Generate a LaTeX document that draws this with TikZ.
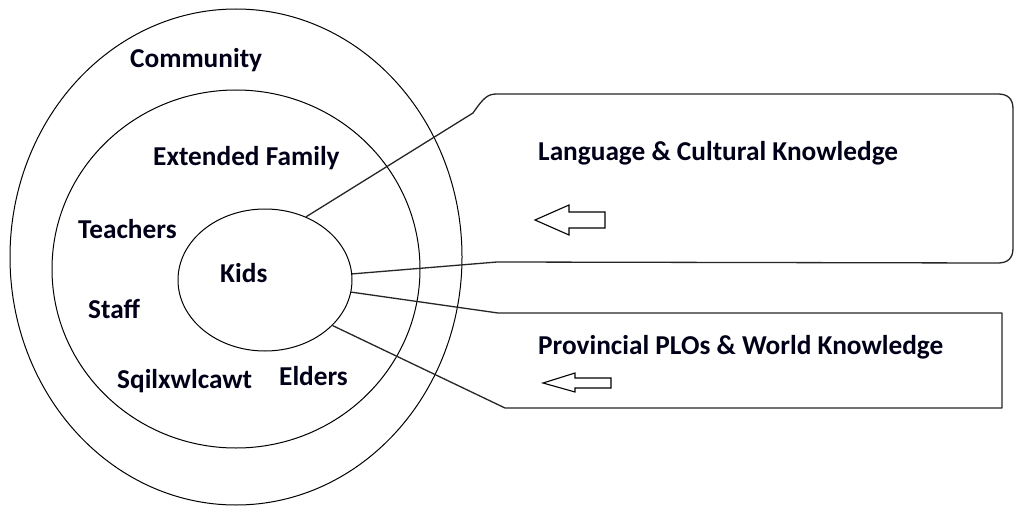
\documentclass[tikz,border=0pt]{standalone}
\usepackage{fontspec}
\setmainfont{Carlito}
\usetikzlibrary{shapes.geometric}
\begin{document}
\begin{tikzpicture}[x=1pt,y=-1pt,
  ring/.style={draw=black, line width=1pt, ellipse, inner sep=0pt},
  lbl/.style={anchor=base west, inner sep=0pt, text=black!90!blue, font=\fontsize{27.3}{31}\selectfont\bfseries},
  edge/.style={draw=black!85, line width=1.3pt, line join=round},
  blockarrow/.style={draw=black, line width=1.1pt, line join=miter, fill=white}]
\useasboundingbox[fill=white] (0,0) rectangle (1014,508);

% concentric rings
\node[ring, minimum width=452pt, minimum height=496pt] (community) at (236,257) {};
\node[ring, minimum width=368pt, minimum height=358pt] (family) at (236,269) {};
\node[ring, minimum width=174pt, minimum height=142pt] (kidsring) at (265,280) {};

% labels in the rings
\node[lbl] (tcommunity) at (130,68) {Community};
\node[lbl] (tfamily) at (153,165) {Extended Family};
\node[lbl] (tteachers) at (78,238) {Teachers};
\node[lbl] (tkids) at (220,282) {Kids};
\node[lbl] (tstaff) at (88,318) {Staff};
\node[lbl] (tsq) at (117,388) {Sqilxwlcawt};
\node[lbl] (telders) at (279,385) {Elders};

% top callout
\coordinate (ta) at (473,113);
\coordinate (tb) at (497,94);
\coordinate (tc) at (998,94);
\coordinate (td) at (1013,109);
\coordinate (te) at (1013,248);
\coordinate (tf) at (998,263);
\coordinate (tg) at (497,262);
\draw[edge] (kidsring.57) -- (ta) .. controls (484,97) and (488,94) .. (tb) -- (tc)
  .. controls (1008,94) and (1013,99) .. (td) -- (te)
  .. controls (1013,258) and (1008,263) .. (tf) -- (tg) -- (kidsring.4);

% bottom callout
\coordinate (ba) at (498,313);
\coordinate (bb) at (1002,313);
\coordinate (bc) at (1002,408);
\coordinate (bd) at (505,408);
\draw[edge] (kidsring.-8.5) -- (ba) -- (bb) -- (bc) -- (bd) -- (kidsring.-34.6);

% callout texts
\node[lbl] (tlang) at (538,160) {Language \& Cultural Knowledge};
\node[lbl] (tprov) at (538,354) {Provincial PLOs \& World Knowledge};

% block arrows
\draw[blockarrow] (535,220) -- (569,205) -- (569,212) -- (605,212) -- (605,228) -- (569,228) -- (569,235) -- cycle;
\draw[blockarrow] (543,383) -- (575,373) -- (575,378) -- (611,378) -- (611,388) -- (575,388) -- (575,392) -- cycle;
\end{tikzpicture}
\end{document}
